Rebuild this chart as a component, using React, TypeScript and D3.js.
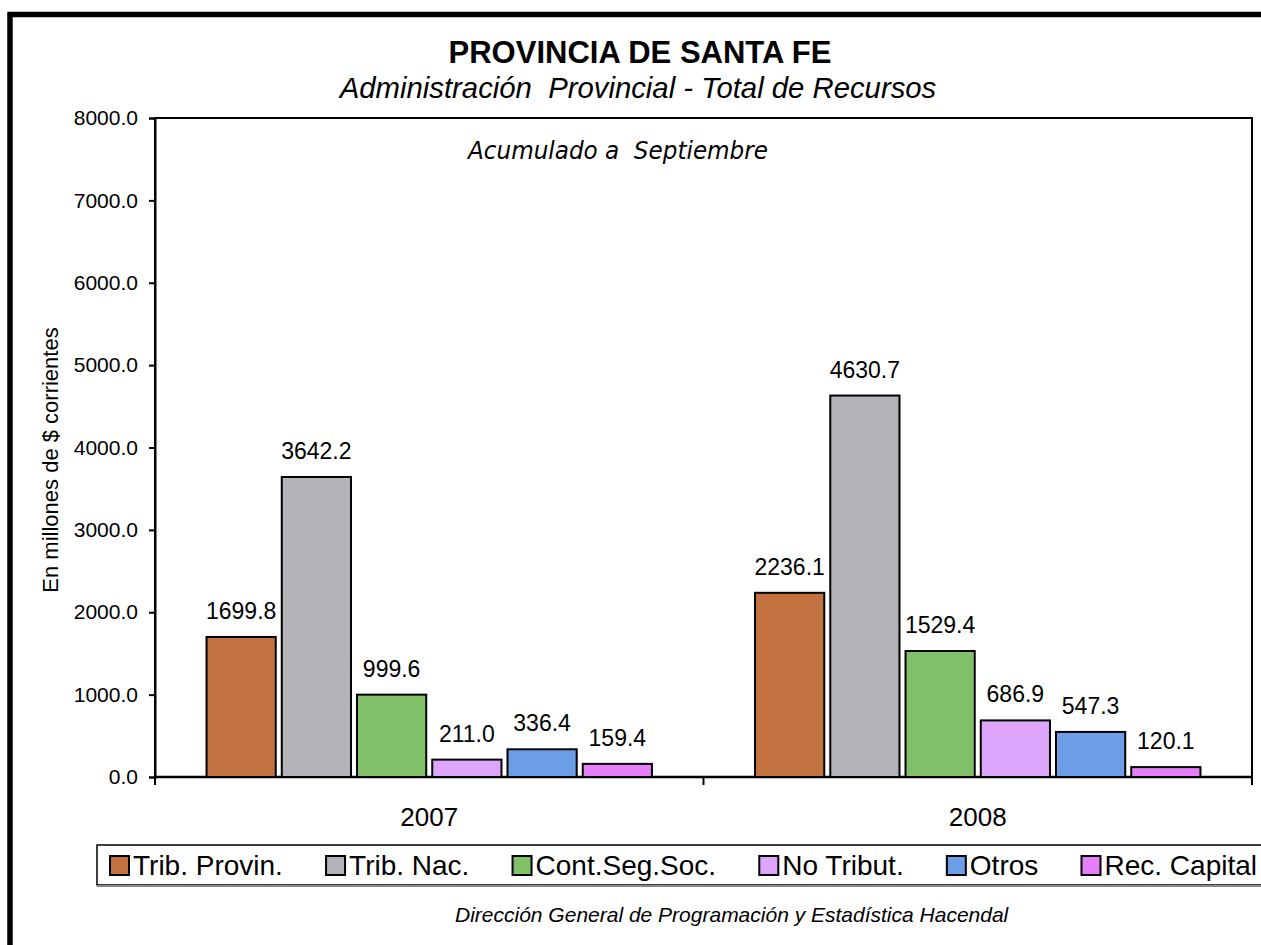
import React, { useEffect, useRef } from 'react';
import * as d3 from 'd3';

const width = 1261;
const height = 945;

const years = ['2007', '2008'];
const series = ['Trib. Provin.', 'Trib. Nac.', 'Cont.Seg.Soc.', 'No Tribut.', 'Otros', 'Rec. Capital'];
const colors = ['#C27140', '#B3B2B7', '#80C068', '#DDA6FC', '#6C9EE8', '#E47FF8'];
const values2007 = [1699.8, 3642.2, 999.6, 211.0, 336.4, 159.4];
const values2008 = [2236.1, 4630.7, 1529.4, 686.9, 547.3, 120.1];
const yTicks = [0, 1000, 2000, 3000, 4000, 5000, 6000, 7000, 8000];

const plot = { left: 155, right: 1252, top: 118, bottom: 777 };
const font = 'Arial, "Liberation Sans", sans-serif';

const App: React.FC = () => {
  const ref = useRef<SVGSVGElement>(null);

  useEffect(() => {
    if (!ref.current) return;
    const svg = d3.select(ref.current);
    svg.selectAll('*').remove();

    const rows = years.map((y, i) => ({ year: y, values: i === 0 ? values2007 : values2008 }));

    const x0 = d3.scaleBand().domain(years).range([plot.left, plot.right]);
    const x1 = d3
      .scaleBand()
      .domain(series)
      .range([0, x0.bandwidth()])
      .paddingInner(0.08)
      .paddingOuter(0.685);
    const y = d3.scaleLinear().domain([0, 8000]).range([plot.bottom, plot.top]);

    // outer frame (runs off the page on right and bottom)
    svg
      .append('rect')
      .attr('x', 10)
      .attr('y', 14.5)
      .attr('width', 1400)
      .attr('height', 1100)
      .attr('fill', 'none')
      .attr('stroke', '#000')
      .attr('stroke-width', 5.5);

    // titles
    svg
      .append('text')
      .attr('x', 640)
      .attr('y', 63)
      .attr('text-anchor', 'middle')
      .style('font-family', font)
      .style('font-weight', 'bold')
      .style('font-size', '31px')
      .text('PROVINCIA DE SANTA FE');

    svg
      .append('text')
      .attr('x', 638)
      .attr('y', 98)
      .attr('text-anchor', 'middle')
      .style('font-family', font)
      .style('font-style', 'italic')
      .style('font-size', '29.3px')
      .style('white-space', 'pre')
      .text('Administración  Provincial - Total de Recursos');

    // plot area box
    svg
      .append('rect')
      .attr('x', plot.left)
      .attr('y', plot.top)
      .attr('width', plot.right - plot.left)
      .attr('height', plot.bottom - plot.top)
      .attr('fill', 'none')
      .attr('stroke', '#000')
      .attr('stroke-width', 2);

    svg
      .append('text')
      .attr('x', 468)
      .attr('y', 159)
      .attr('textLength', 300)
      .attr('lengthAdjust', 'spacingAndGlyphs')
      .style('font-family', '"Comic Sans MS", "DejaVu Sans", sans-serif')
      .style('font-style', 'italic')
      .style('font-size', '24px')
      .style('white-space', 'pre')
      .text('Acumulado a  Septiembre');

    // y axis
    const yAxis = svg
      .append('g')
      .attr('transform', `translate(${plot.left},0)`)
      .call(
        d3
          .axisLeft(y)
          .tickValues(yTicks)
          .tickFormat(d3.format('.1f'))
          .tickSize(6)
          .tickPadding(11)
      );
    yAxis.select('.domain').attr('stroke-width', 2);
    yAxis.selectAll('.tick line').attr('stroke-width', 2);
    yAxis.selectAll('text').style('font-family', font).style('font-size', '21px').attr('fill', '#000');

    // x axis
    const xAxis = svg.append('g').attr('transform', `translate(0,${plot.bottom})`);
    xAxis
      .append('line')
      .attr('x1', plot.left)
      .attr('x2', plot.right)
      .attr('stroke', '#000')
      .attr('stroke-width', 2.5);
    const bounds = [plot.left, ...years.map(d => (x0(d) as number) + x0.bandwidth())];
    xAxis
      .selectAll('line.tk')
      .data(bounds)
      .enter()
      .append('line')
      .attr('class', 'tk')
      .attr('x1', d => d)
      .attr('x2', d => d)
      .attr('y1', 0)
      .attr('y2', 8)
      .attr('stroke', '#000')
      .attr('stroke-width', 2);
    xAxis
      .selectAll('text')
      .data(years)
      .enter()
      .append('text')
      .attr('x', d => (x0(d) as number) + x0.bandwidth() / 2)
      .attr('y', 49)
      .attr('text-anchor', 'middle')
      .style('font-family', font)
      .style('font-size', '26px')
      .text(d => d);

    // y label
    svg
      .append('text')
      .attr('transform', 'translate(58,460) rotate(-90)')
      .attr('text-anchor', 'middle')
      .style('font-family', font)
      .style('font-size', '22px')
      .text('En millones de $ corrientes');

    // bars
    const groups = svg
      .selectAll('g.year')
      .data(rows)
      .enter()
      .append('g')
      .attr('class', 'year')
      .attr('transform', d => `translate(${x0(d.year)},0)`);

    groups
      .selectAll('rect')
      .data(d => d.values.map((v, i) => ({ key: series[i], v, i })))
      .enter()
      .append('rect')
      .attr('x', d => x1(d.key) as number)
      .attr('y', d => y(d.v))
      .attr('width', x1.bandwidth())
      .attr('height', d => y(0) - y(d.v))
      .attr('fill', d => colors[d.i])
      .attr('stroke', '#000')
      .attr('stroke-width', 2);

    groups
      .selectAll('text')
      .data(d => d.values.map((v, i) => ({ key: series[i], v })))
      .enter()
      .append('text')
      .attr('x', d => (x1(d.key) as number) + x1.bandwidth() / 2)
      .attr('y', d => y(d.v) - 18)
      .attr('text-anchor', 'middle')
      .style('font-family', font)
      .style('font-size', '23px')
      .text(d => d3.format('.1f')(d.v));

    // legend
    const lg = svg.append('g');
    lg.append('rect')
      .attr('x', 97)
      .attr('y', 845)
      .attr('width', 1300)
      .attr('height', 40)
      .attr('fill', '#fff')
      .attr('stroke', '#000')
      .attr('stroke-width', 1.5);
    lg.append('line')
      .attr('x1', 97)
      .attr('x2', 1400)
      .attr('y1', 886)
      .attr('y2', 886)
      .attr('stroke', '#888')
      .attr('stroke-width', 2);

    const items = lg
      .selectAll('g.item')
      .data(series)
      .enter()
      .append('g')
      .attr('class', 'item');
    items
      .append('rect')
      .attr('x', 0)
      .attr('y', 856)
      .attr('width', 19)
      .attr('height', 19)
      .attr('fill', (d, i) => colors[i])
      .attr('stroke', '#000')
      .attr('stroke-width', 2);
    items
      .append('text')
      .attr('x', 23)
      .attr('y', 875)
      .style('font-family', font)
      .style('font-size', '28px')
      .text(d => d);

    const widths = items.nodes().map(n => 23 + (n.querySelector('text') as SVGTextElement).getComputedTextLength());
    const startX = 110;
    const endX = 1257;
    const gap = (endX - startX - d3.sum(widths)) / (series.length - 1);
    let cx = startX;
    items.attr('transform', (d, i) => {
      const t = `translate(${cx},0)`;
      cx += widths[i] + gap;
      return t;
    });

    // footer
    svg
      .append('text')
      .attr('x', 455)
      .attr('y', 922)
      .style('font-family', font)
      .style('font-style', 'italic')
      .style('font-size', '21px')
      .text('Dirección General de Programación y Estadística Hacendal');
  }, []);

  return (
    <svg
      ref={ref}
      width={width}
      height={height}
      style={{ position: 'absolute', top: 0, left: 0, background: '#fff' }}
    />
  );
};

export default App;
